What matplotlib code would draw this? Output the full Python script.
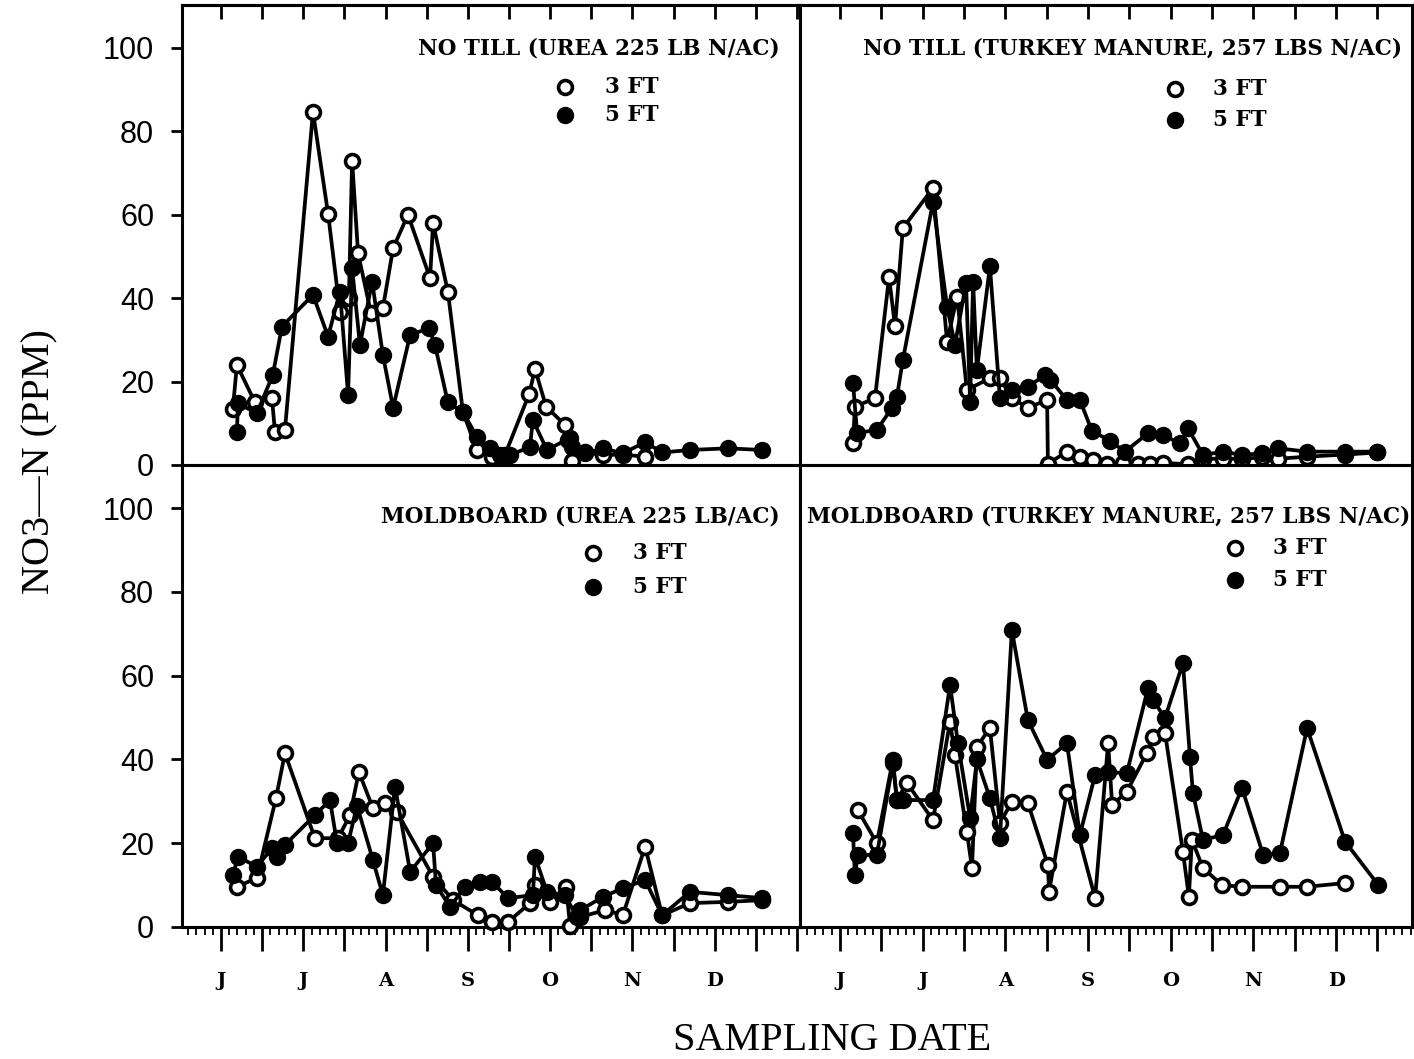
import matplotlib
matplotlib.use('Agg')
import matplotlib.pyplot as plt
from matplotlib.ticker import MultipleLocator, NullFormatter
from matplotlib.lines import Line2D

# ---------------- data (x = days after June 1, y = NO3-N ppm) ----------------
tl_3ft_day = [4.4, 5.9, 12.6, 18.9, 20.0, 23.7, 34.1, 39.7, 44.1, 47.4, 48.6, 50.8, 55.6, 60.0,
              63.8, 69.3, 77.5, 78.6, 84.1, 89.7, 94.9, 100.4, 105.3, 114.2, 116.4, 120.5,
              127.5, 128.6, 130.1, 134.9, 141.6, 149.0, 157.2]
tl_3ft_val = [13.5, 24, 15, 16, 8, 8.4, 84.7, 60.2, 36.8, 40, 73, 50.8, 36.4, 37.6,
              52, 60, 44.8, 58, 41.5, 12.6, 3.6, 2, 2.5, 17, 23, 14,
              9.6, 6, 1, 3, 2.4, 2.5, 2]
tl_5ft_day = [5.9, 6.3, 13.3, 19.2, 22.6, 34.1, 39.7, 44.1, 47.1, 48.6, 51.5, 56.0, 60.0, 63.8,
              70.1, 77.1, 79.3, 84.1, 89.7, 94.9, 99.7, 103.4, 107.1, 114.5, 115.6, 120.8,
              129.4, 130.1, 134.9, 141.6, 149.0, 157.2, 163.5, 173.8, 187.9, 200.5]
tl_5ft_val = [8, 14.8, 12.4, 21.6, 33.2, 40.8, 30.8, 41.6, 16.8, 47.2, 28.8, 44, 26.4, 13.7,
              31.2, 32.8, 28.8, 15, 12.7, 6.7, 4, 2.4, 2.4, 4.3, 10.8, 3.6,
              6.5, 4.3, 2.8, 4, 2.8, 5.5, 3, 3.6, 4, 3.6]

tr_3ft_day = [4.8, 5.5, 12.9, 18.1, 20.3, 23.2, 34.3, 39.5, 43.2, 46.8, 55.3, 59.0, 63.4, 69.3,
              76.4, 76.7, 83.7, 88.5, 93.3, 98.5, 104.4, 109.9, 114.3, 119.1, 128.4, 133.9,
              141.3, 148.3, 155.7, 161.6, 172.3, 186.3, 198.2]
tr_3ft_val = [5.3, 14, 16, 45, 33.3, 56.8, 66.4, 29.6, 40.4, 18, 20.8, 20.8, 16, 13.7,
              15.6, 0.3, 3.2, 2, 1.2, 0.3, 0.5, 0.3, 0.3, 0.5, 0.2, 1.5,
              1.5, 1.5, 1.8, 1.5, 2, 2.5, 3]
tr_5ft_day = [4.8, 6.3, 13.6, 19.2, 21.0, 23.2, 34.3, 39.5, 42.4, 46.5, 48.0, 49.1, 50.5, 55.3,
              59.0, 63.4, 69.3, 75.6, 77.5, 83.7, 88.5, 92.9, 99.6, 105.1, 113.6, 119.1,
              125.4, 128.4, 133.9, 141.3, 148.3, 155.7, 161.6, 172.3, 186.3, 198.2]
tr_5ft_val = [19.7, 7.7, 8.4, 13.7, 16.4, 25.2, 63, 38, 28.8, 43.6, 15.2, 44, 22.8, 47.6,
              16, 18, 18.8, 21.5, 20.5, 15.6, 15.6, 8.2, 5.8, 3.2, 7.6, 7.2,
              5.2, 8.8, 2.4, 3.2, 2.4, 2.8, 4, 3.2, 3.2, 3.2]

bl_3ft_day = [5.9, 13.3, 20.4, 23.7, 34.8, 43.4, 47.8, 51.1, 56.3, 60.8, 65.2, 78.6, 86.0, 95.3,
              100.4, 106.4, 114.5, 116.4, 121.9, 127.9, 129.4, 133.1, 142.3, 149.0, 157.2,
              163.5, 173.8, 187.9, 200.5]
bl_3ft_val = [9.6, 11.7, 30.8, 41.5, 21.2, 21.2, 26.7, 37, 28.4, 29.6, 27.5, 12, 6.4, 2.8,
              1.2, 1.2, 5.7, 10, 6, 9.6, 0.3, 2.4, 4, 2.9, 19.2,
              2.8, 5.7, 6, 6.4]
bl_5ft_day = [4.4, 6.3, 13.3, 18.9, 20.8, 23.7, 34.8, 40.4, 43.0, 47.1, 50.4, 56.3, 60.0, 64.5,
              70.1, 78.6, 79.7, 84.9, 90.4, 96.0, 100.4, 106.4, 115.6, 116.4, 120.8, 127.5,
              131.9, 133.1, 141.6, 149.0, 157.2, 163.5, 173.8, 187.9, 200.5]
bl_5ft_val = [12.4, 16.8, 14.4, 18.8, 16.8, 19.6, 26.7, 30.3, 20, 20, 29, 16, 7.6, 33.5,
              13.2, 20, 10, 4.8, 9.6, 10.8, 10.8, 6.9, 7.6, 16.8, 8.4, 7.6,
              2.4, 4, 7.2, 9.3, 11.2, 2.8, 8.4, 7.6, 6.9]

br_3ft_day = [6.6, 13.6, 19.5, 21.0, 24.7, 34.3, 40.6, 42.4, 46.8, 48.7, 50.5, 55.3, 59.0, 63.4,
              69.3, 76.7, 77.1, 83.7, 94.1, 98.9, 100.4, 105.8, 113.2, 115.5, 119.9, 126.5,
              128.7, 129.8, 133.9, 140.9, 148.3, 162.3, 172.3, 186.3]
br_3ft_val = [27.9, 20, 39.9, 30.3, 34.4, 25.5, 49, 41, 22.7, 14.1, 43, 47.5, 24.8, 29.9,
              29.6, 14.8, 8.4, 32.3, 6.9, 43.9, 29.1, 32.3, 41.5, 45.4, 46.3, 18,
              7.2, 20.8, 14.1, 10, 9.6, 9.6, 9.6, 10.5]
br_5ft_day = [4.8, 5.5, 6.6, 13.6, 19.5, 21.0, 23.2, 34.3, 40.6, 43.5, 48.0, 50.5, 55.3, 59.0,
              63.4, 69.3, 76.4, 83.7, 88.5, 94.1, 98.9, 105.8, 113.6, 115.5, 119.9, 126.5,
              129.1, 130.2, 133.9, 141.3, 148.3, 156.1, 162.3, 172.3, 186.3, 198.6]
br_5ft_val = [22.4, 12.4, 17.2, 17.2, 39.1, 30.3, 30.3, 30.3, 57.8, 43.9, 26, 40, 30.8, 21.2,
              70.9, 49.4, 39.9, 43.9, 22, 36.3, 37, 36.7, 57, 54.2, 49.9, 63,
              40.6, 32, 20.8, 22, 33.2, 17.2, 17.7, 47.5, 20.4, 10]

titles = ["NO TILL (UREA 225 LB N/AC)", "NO TILL (TURKEY MANURE, 257 LBS N/AC)",
          "MOLDBOARD (UREA 225 LB/AC)", "MOLDBOARD (TURKEY MANURE, 257 LBS N/AC)"]
series_labels = ["3 FT", "5 FT"]
month_labels = ["J", "J", "A", "S", "O", "N", "D"]
month_days = [0, 30.5, 61, 91.5, 122, 152.5, 183]
y_ticks = [0, 20, 40, 60, 80, 100]

# ---------------- layout ----------------
W, H = 1414, 1059
fig = plt.figure(figsize=(W / 100, H / 100), dpi=100)
fig.patch.set_facecolor('white')

def box(x0, y0, x1, y1):
    return [x0 / W, 1 - y1 / H, (x1 - x0) / W, (y1 - y0) / H]

SERIF_B = dict(family='DejaVu Serif', weight='bold')
LW = 2.7
MS_O, MEW_O = 10.0, 2.6
MS_F = 11.5
TFS = 15.5

panels = [
    dict(box=box(182, 5, 800, 465), xlim=(-14.45, 214.6), top=True, left=True,
         d3=tl_3ft_day, v3=tl_3ft_val, d5=tl_5ft_day, v5=tl_5ft_val,
         title_xy=(780, 48), leg_xy=(565, 87, 115), leg_tx=605),
    dict(box=box(800, 5, 1412, 465), xlim=(-14.75, 211.0), top=True, left=False,
         d3=tr_3ft_day, v3=tr_3ft_val, d5=tr_5ft_day, v5=tr_5ft_val,
         title_xy=(1402, 48), leg_xy=(1175, 89, 120), leg_tx=1213),
    dict(box=box(182, 465, 800, 927), xlim=(-14.45, 214.6), top=False, left=True,
         d3=bl_3ft_day, v3=bl_3ft_val, d5=bl_5ft_day, v5=bl_5ft_val,
         title_xy=(780, 517), leg_xy=(593, 553, 587), leg_tx=633),
    dict(box=box(800, 465, 1412, 927), xlim=(-14.75, 211.0), top=False, left=False,
         d3=br_3ft_day, v3=br_3ft_val, d5=br_5ft_day, v5=br_5ft_val,
         title_xy=(1410, 517), leg_xy=(1235, 548, 580), leg_tx=1273),
]

for i, p in enumerate(panels):
    ax = fig.add_axes(p['box'])
    ax.set_xlim(*p['xlim'])
    ax.set_ylim(0, 110.3)
    for s in ax.spines.values():
        s.set_linewidth(2.2)

    ax.plot(p['d3'], p['v3'], '-', color='black', lw=LW, marker='o', ms=MS_O,
            mfc='white', mec='black', mew=MEW_O, clip_on=False, zorder=3)
    ax.plot(p['d5'], p['v5'], '-', color='black', lw=LW, marker='o', ms=MS_F,
            mfc='black', mec='black', mew=1.0, clip_on=False, zorder=4)

    # y axis
    if p['left']:
        ax.set_yticks(y_ticks)
        ax.tick_params(axis='y', direction='out', length=8, width=2.0, pad=12,
                       labelsize=22)
        for lab in ax.get_yticklabels():
            lab.set_family('Liberation Sans')
    else:
        ax.set_yticks([])

    # x axis
    ax.xaxis.set_major_locator(MultipleLocator(15.25))
    ax.xaxis.set_minor_locator(MultipleLocator(15.25 / 5))
    ax.xaxis.set_major_formatter(NullFormatter())
    if p['top']:
        ax.tick_params(axis='x', which='both', bottom=False, top=False)
        sec = ax.secondary_xaxis('top')
        sec.xaxis.set_major_locator(MultipleLocator(15.25))
        sec.xaxis.set_major_formatter(NullFormatter())
        sec.tick_params(axis='x', which='major', direction='in', length=10, width=2.0)
        sec.spines['top'].set_linewidth(2.2)
    else:
        ax.tick_params(axis='x', which='major', direction='out', length=17, width=2.0)
        ax.tick_params(axis='x', which='minor', direction='out', length=6, width=1.3)
        for md, ml in zip(month_days, month_labels):
            ax.annotate(ml, xy=(md, 0), xycoords=('data', 'axes fraction'),
                        xytext=(0, -39), textcoords='offset points',
                        ha='center', va='center', fontsize=14, **SERIF_B)

    # title and legend
    tx, ty = p['title_xy']
    fig.text(tx / W, 1 - ty / H, titles[i], ha='right', va='center', fontsize=TFS, **SERIF_B)
    lx, ly3, ly5 = p['leg_xy']
    fig.add_artist(Line2D([lx / W], [1 - ly3 / H], transform=fig.transFigure, marker='o',
                          ms=MS_O, mfc='white', mec='black', mew=MEW_O, ls='none'))
    fig.add_artist(Line2D([lx / W], [1 - ly5 / H], transform=fig.transFigure, marker='o',
                          ms=MS_F, mfc='black', mec='black', mew=1.0, ls='none'))
    fig.text(p['leg_tx'] / W, 1 - ly3 / H, series_labels[0], ha='left', va='center',
             fontsize=TFS, **SERIF_B)
    fig.text(p['leg_tx'] / W, 1 - ly5 / H, series_labels[1], ha='left', va='center',
             fontsize=TFS, **SERIF_B)

fig.text(40 / W, 1 - 462 / H, "NO3\u2014N (PPM)", rotation=90, ha='center', va='center',
         fontsize=29, family='Liberation Serif')
fig.text(832 / W, 1 - 1040 / H, "SAMPLING DATE", ha='center', va='center',
         fontsize=29, family='Liberation Serif')

fig.savefig('out.png', dpi=100, facecolor='white')
